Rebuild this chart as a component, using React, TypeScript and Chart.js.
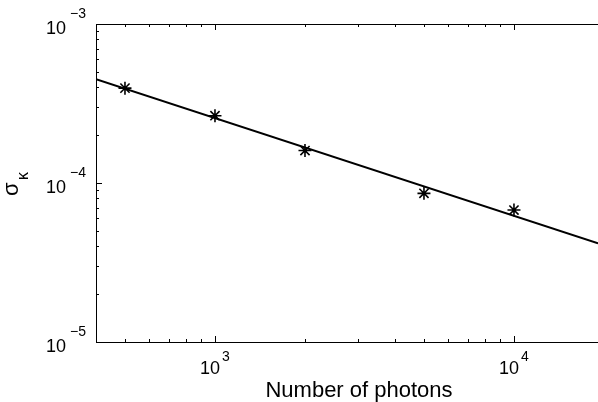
import React, { useEffect, useRef } from "react";
import { Chart, registerables } from "chart.js";

Chart.register(...registerables);

// Data
const photons = [500, 1000, 2000, 5000, 10000];
const sigmaKappa = [3.95e-4, 2.65e-4, 1.6e-4, 8.61e-5, 6.76e-5];
const fitX = [400, 19100];
const fitY = [4.5e-4, 4.17e-5];
const xDecades = [1000, 10000];
const yDecades = [1e-5, 1e-4, 1e-3];
const xLabel = "Number of photons";

const axesPlugin = {
  id: "matlabAxes",
  afterDraw(chart: any) {
    const { ctx, chartArea } = chart;
    const xs = chart.scales.x;
    const ys = chart.scales.y;
    const { left, right, top, bottom } = chartArea;
    ctx.save();
    ctx.strokeStyle = "#000";
    ctx.fillStyle = "#000";
    ctx.lineWidth = 1;
    // box lines (left, bottom, top)
    ctx.beginPath();
    ctx.moveTo(left + 0.5, top);
    ctx.lineTo(left + 0.5, bottom);
    ctx.moveTo(left, bottom + 0.5);
    ctx.lineTo(right, bottom + 0.5);
    ctx.moveTo(left, top + 0.5);
    ctx.lineTo(right, top + 0.5);
    ctx.stroke();

    // x ticks
    ctx.beginPath();
    const xmin = xs.min, xmax = xs.max;
    for (let d = 100; d <= 100000; d *= 10) {
      for (let m = 1; m <= 9; m++) {
        const v = d * m;
        if (v <= xmin || v > xmax) continue;
        const px = Math.round(xs.getPixelForValue(v)) + 0.5;
        const len = m === 1 ? 6 : 3;
        ctx.moveTo(px, bottom);
        ctx.lineTo(px, bottom - len);
        ctx.moveTo(px, top);
        ctx.lineTo(px, top + len);
      }
    }
    // y ticks
    for (let d = 1e-6; d <= 1e-2; d *= 10) {
      for (let m = 1; m <= 9; m++) {
        const v = d * m;
        if (v < ys.min * 0.999 || v > ys.max * 1.001) continue;
        const py = Math.round(ys.getPixelForValue(v)) + 0.5;
        const len = m === 1 ? 6 : 3;
        ctx.moveTo(left, py);
        ctx.lineTo(left + len, py);
      }
    }
    ctx.stroke();

    const big = "18px 'Liberation Sans', Arial, sans-serif";
    const sup = "14px 'Liberation Sans', Arial, sans-serif";
    ctx.textBaseline = "alphabetic";

    // x tick labels
    xDecades.forEach((v) => {
      const px = xs.getPixelForValue(v);
      const exp = String(Math.round(Math.log10(v)));
      ctx.font = big;
      const w10 = ctx.measureText("10").width;
      ctx.font = sup;
      const wS = ctx.measureText(exp).width;
      const total = w10 + 2 + wS;
      const x0 = px - total / 2;
      ctx.textAlign = "left";
      ctx.font = big;
      ctx.fillText("10", x0, bottom + 32);
      ctx.font = sup;
      ctx.fillText(exp, x0 + w10 + 2, bottom + 19);
    });

    // y tick labels
    yDecades.forEach((v) => {
      const py = ys.getPixelForValue(v);
      const e = Math.round(Math.log10(v));
      const exp = (e < 0 ? "\u2212" : "") + String(Math.abs(e));
      ctx.textAlign = "right";
      ctx.font = sup;
      ctx.fillText(exp, left - 10, py - 6);
      const wS = ctx.measureText(exp).width;
      ctx.font = big;
      ctx.fillText("10", left - 10 - wS - 4, py + 10);
    });

    // x axis label
    ctx.textAlign = "center";
    ctx.font = "22px 'Liberation Sans', Arial, sans-serif";
    ctx.fillText(xLabel, 359, 397);

    // y axis label σκ rotated
    ctx.save();
    ctx.translate(17.5, 196);
    ctx.rotate(-Math.PI / 2);
    ctx.textAlign = "left";
    ctx.font = "22px 'Liberation Sans', Arial, sans-serif";
    ctx.fillText("σ", 0, 0);
    ctx.font = "16px 'Liberation Sans', Arial, sans-serif";
    ctx.fillText("κ", 16, 10);
    ctx.restore();

    ctx.restore();
  },
};

export default function App() {
  const ref = useRef<HTMLCanvasElement>(null);
  useEffect(() => {
    if (!ref.current) return;
    const chart = new Chart(ref.current, {
      type: "scatter",
      data: {
        datasets: [
          {
            label: "fit",
            data: fitX.map((x, i) => ({ x, y: fitY[i] })),
            showLine: true,
            borderColor: "#000",
            borderWidth: 2,
            pointRadius: 0,
            order: 2,
          },
          {
            label: "data",
            data: photons.map((x, i) => ({ x, y: sigmaKappa[i] })),
            showLine: false,
            pointStyle: "star",
            pointRadius: 6.5,
            pointBorderWidth: 1.6,
            borderColor: "#000",
            backgroundColor: "#000",
            order: 1,
          },
        ],
      },
      options: {
        animation: false,
        responsive: false,
        devicePixelRatio: 1,
        layout: { autoPadding: false, padding: { left: 96, top: 24, right: 0, bottom: 60 } },
        plugins: { legend: { display: false }, tooltip: { enabled: false } },
        scales: {
          x: { type: "logarithmic", min: 400, max: 19100, display: false },
          y: { type: "logarithmic", min: 1e-5, max: 1e-3, display: false },
        },
      },
      plugins: [axesPlugin],
    });
    return () => chart.destroy();
  }, []);
  return (
    <div style={{ position: "fixed", left: 0, top: 0, width: 598, height: 402, background: "#fff" }}>
      <canvas ref={ref} width={598} height={402} />
    </div>
  );
}
